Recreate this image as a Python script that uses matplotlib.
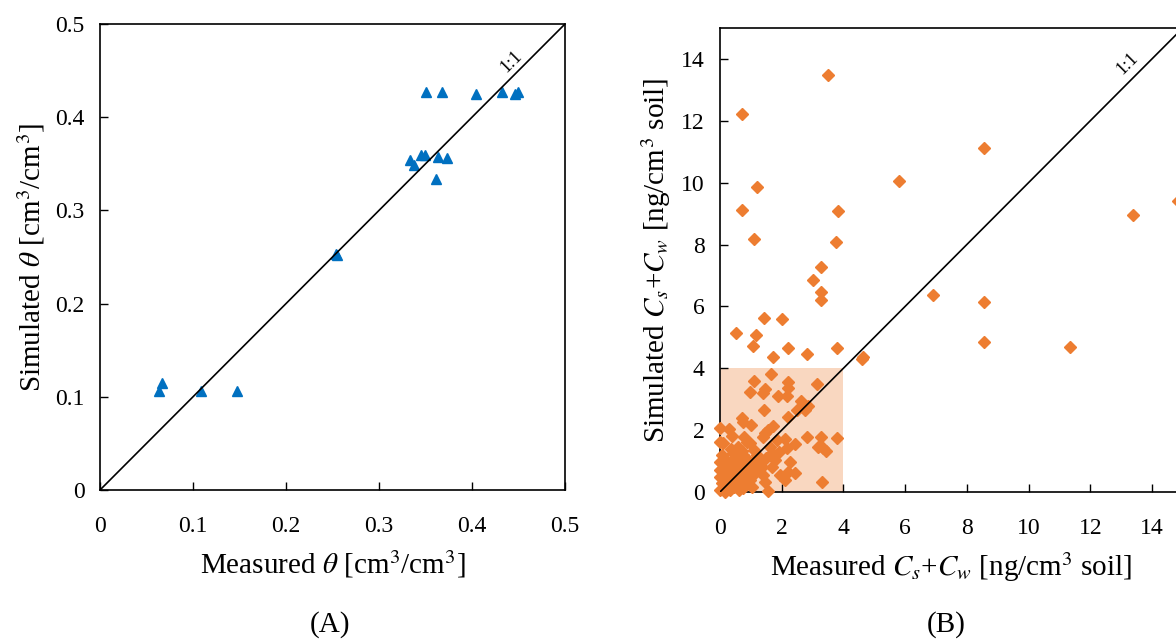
import matplotlib
matplotlib.use("Agg")
import matplotlib.pyplot as plt
from matplotlib.patches import Rectangle

plt.rcParams['font.family'] = ['Liberation Serif', 'DejaVu Serif']
plt.rcParams['mathtext.fontset'] = 'stix'

# (A) water content
meas_theta = [0.351, 0.368, 0.404, 0.4325, 0.4465, 0.4497, 0.333, 0.3376, 0.3448, 0.3498,
              0.3634, 0.3734, 0.3612, 0.2535, 0.255, 0.0666, 0.0637, 0.1085, 0.1468]
sim_theta = [0.4266, 0.427, 0.425, 0.427, 0.425, 0.427, 0.3537, 0.3487, 0.359, 0.359,
             0.357, 0.3565, 0.334, 0.2537, 0.252, 0.1147, 0.1058, 0.1058, 0.1058]

# (B) Cs+Cw
meas_c = [3.49, 0.70, 8.56, 5.80, 1.21, 0.70, 3.81, 13.38, 14.85, 1.11, 3.76, 3.26, 3.00, 3.26,
          3.26, 6.91, 8.56, 1.42, 2.02, 0.51, 1.17, 1.08, 2.21, 3.80, 1.71, 2.82, 4.59, 4.65,
          8.56, 11.35,
          1.65, 1.10, 2.20, 3.13, 2.22, 1.45, 1.40, 0.97, 1.89, 2.16, 2.63, 2.86, 2.49, 2.75,
          1.42, 2.19, 0.70, 0.73, 1.00, 0.00, 0.30, 1.73, 1.57, 1.46, 1.38, 2.83, 3.26, 3.78,
          2.11, 0.00, 0.11, 0.79, 0.86, 0.97, 1.84, 2.43, 3.19, 3.35, 3.44, 2.16, 0.59, 0.70,
          0.43, 0.54, 0.76, 1.62, 1.67, 1.19, 1.78, 2.27, 0.00, 0.00, 0.32, 0.43, 0.22, 0.65,
          0.81, 1.35, 1.24, 1.03, 2.22, 2.43, 1.94, 2.11, 1.40, 1.46, 3.30, 0.00, 0.05, 0.00,
          0.22, 0.32, 0.16, 0.43, 0.54, 0.76, 0.65, 0.76, 1.03, 0.97, 1.57, 1.13, 1.67,
          0.10, 0.15, 0.25, 0.35, 0.45, 0.55, 0.60, 0.85, 0.90, 0.30, 0.05, 0.20, 0.35, 0.50,
          0.62, 0.90, 1.10, 1.25, 0.40, 0.15, 0.70, 1.50, 1.90, 0.28, 0.95]
sim_c = [13.49, 12.23, 11.12, 10.04, 9.85, 9.12, 9.08, 8.95, 9.41, 8.19, 8.09, 7.26, 6.84, 6.48,
         6.20, 6.37, 6.15, 5.62, 5.60, 5.14, 5.09, 4.71, 4.66, 4.65, 4.35, 4.46, 4.31, 4.37,
         4.84, 4.68,
         3.80, 3.59, 3.54, 3.50, 3.35, 3.34, 3.20, 3.23, 3.09, 3.09, 2.93, 2.79, 2.66, 2.66,
         2.66, 2.42, 2.39, 2.25, 2.15, 2.06, 2.03, 2.12, 2.01, 1.90, 1.77, 1.79, 1.77, 1.76,
         1.71, 1.63, 1.58, 1.79, 1.63, 1.58, 1.69, 1.55, 1.45, 1.42, 1.31, 1.42, 1.47, 1.31,
         1.25, 1.15, 1.20, 1.47, 1.25, 1.20, 1.04, 0.96, 0.96, 0.71, 0.93, 0.82, 0.77, 0.88,
         0.77, 0.82, 0.71, 0.93, 0.66, 0.63, 0.55, 0.39, 0.55, 0.33, 0.33, 0.50, 0.28, 0.06,
         0.17, 0.06, 0.33, 0.55, 0.39, 0.50, 0.28, 0.12, 0.17, 0.39, 0.04, 0.61, 0.82,
         0.10, 0.05, 0.40, 0.25, 0.15, 0.65, 0.05, 0.30, 0.60, 0.60, 1.20, 1.05, 1.40, 0.95,
         1.05, 1.05, 1.35, 1.00, 1.80, 0.00, 0.70, 1.10, 1.30, 0.52, 0.85]

blue = '#0070C0'
orange = '#ED7D31'

fig = plt.figure(figsize=(11.76, 6.41), dpi=100)

def style(ax):
    ax.tick_params(direction='in', length=6, width=1, labelsize=17, top=False, right=False)
    ax.tick_params(axis='x', pad=19)
    ax.tick_params(axis='y', pad=11)
    for s in ax.spines.values():
        s.set_linewidth(1.2)

# ---- (A)
ax1 = fig.add_axes([100/1176, 1-490/641, 465/1176, 466/641])
ax1.plot(meas_theta, sim_theta, '^', color=blue, ms=7.5, mec=blue, clip_on=False, zorder=3)
ax1.plot([0, 0.5], [0, 0.5], color='black', lw=1.2, zorder=4)
ax1.set_xlim(0, 0.5)
ax1.set_ylim(0, 0.5)
ax1.set_xticks([0, 0.1, 0.2, 0.3, 0.4, 0.5])
ax1.set_yticks([0, 0.1, 0.2, 0.3, 0.4, 0.5])
ax1.set_xticklabels(['0', '0.1', '0.2', '0.3', '0.4', '0.5'])
ax1.set_yticklabels(['0', '0.1', '0.2', '0.3', '0.4', '0.5'])
style(ax1)
ax1.set_xlabel(r'Measured $\theta$ [cm$^3$/cm$^3$]', fontsize=21, labelpad=8)
ax1.set_ylabel(r'Simulated $\theta$ [cm$^3$/cm$^3$]', fontsize=21, labelpad=6)
ax1.text(0.4425, 0.4595, '1:1', rotation=45, ha='center', va='center', fontsize=13)

# ---- (B)
ax2 = fig.add_axes([720/1176, 1-492/641, 462.8/1176, 464/641])
ax2.add_patch(Rectangle((0, 0), 4, 4, facecolor=orange, alpha=0.3, lw=0, zorder=1))
ax2.plot(meas_c, sim_c, 'D', color=orange, ms=6.5, mec=orange, clip_on=False, zorder=3)
ax2.plot([0, 15], [0, 15], color='black', lw=1.2, zorder=4)
ax2.set_xlim(0, 15)
ax2.set_ylim(0, 15)
ax2.set_xticks(range(0, 15, 2))
ax2.set_yticks(range(0, 15, 2))
style(ax2)
ax2.set_xlabel(r'Measured $C_s$+$C_w$ [ng/cm$^3$ soil]', fontsize=21, labelpad=8)
ax2.set_ylabel(r'Simulated $C_s$+$C_w$ [ng/cm$^3$ soil]', fontsize=21, labelpad=6)
ax2.text(13.2, 13.84, '1:1', rotation=45, ha='center', va='center', fontsize=13)

fig.text(330/1176, 1-625/641, '(A)', ha='center', va='center', fontsize=21)
fig.text(946/1176, 1-625/641, '(B)', ha='center', va='center', fontsize=21)

fig.savefig('out.png', dpi=100)
